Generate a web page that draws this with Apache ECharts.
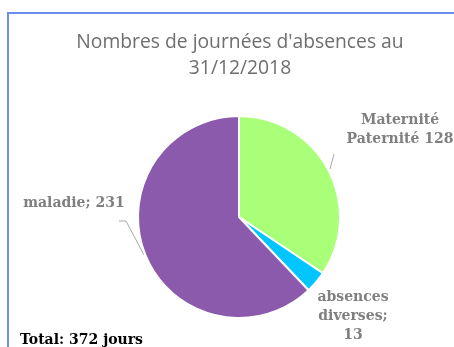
<!DOCTYPE html>
<html>
<head>
<meta charset="utf-8">
<script src="https://cdn.jsdelivr.net/npm/echarts@6/dist/echarts.min.js"></script>
<style>
  html, body { margin: 0; padding: 0; background: #fff; }
  #chart { width: 454px; height: 347px; }
</style>
</head>
<body>
<div id="chart"></div>
<script>
// Absence days at 31/12/2018, by reason
const categories = ['Maternité Paternité', 'absences diverses', 'maladie'];
const days = [128, 13, 231];
const sliceColors = ['#a9ff77', '#00c5ff', '#8b5aad'];
const totalLabel = 'Total: 372 jours';

const cx = 239, cy = 217, R = 101;

const chart = echarts.init(document.getElementById('chart'));

const labelFont = {
  fontFamily: '"DejaVu Serif", "Liberation Serif", serif',
  fontWeight: 'bold',
  fontSize: 14,
  color: '#7f7f7f',
  lineHeight: 19,
  overflow: 'none'
};

chart.setOption({
  animation: false,
  title: {
    text: "Nombres de journées d'absences au\n31/12/2018",
    left: 235,
    textAlign: 'center',
    top: 25,
    textStyle: {
      fontFamily: '"Open Sans", sans-serif',
      fontSize: 19.3,
      fontWeight: 'normal',
      color: '#6e6e6e',
      lineHeight: 26
    }
  },
  graphic: [
    {
      type: 'rect',
      shape: { x: 8, y: 13, width: 520, height: 420 },
      style: { fill: 'none', stroke: '#6d8cf0', lineWidth: 2 },
      z: 0
    },
    {
      type: 'text',
      left: 20,
      top: 333,
      style: {
        text: totalLabel,
        fill: '#000',
        font: 'bold 14px "DejaVu Serif", "Liberation Serif", serif'
      }
    }
  ],
  series: [{
    type: 'pie',
    center: [cx, cy],
    radius: R,
    startAngle: 90,
    clockwise: true,
    itemStyle: { borderColor: '#fff', borderWidth: 2 },
    label: Object.assign({ show: true }, labelFont),
    labelLine: { show: true, lineStyle: { color: '#a6a6a6', width: 1 } },
    data: categories.map((name, i) => {
      const texts = [
        'Maternité\nPaternité 128',
        'absences\ndiverses;\n' + days[1],
        'maladie; ' + days[2]
      ];
      return {
        name,
        value: days[i],
        itemStyle: { color: sliceColors[i] },
        label: { formatter: texts[i], align: 'center', width: 160, overflow: 'none' },
        labelLine: { show: i !== 1 }
      };
    }),
    labelLayout: function (p) {
      if (p.dataIndex === 0) {
        return {
          x: 400, y: 130, align: 'center', verticalAlign: 'middle',
          labelLinePoints: [[cx + 91, cy - 48], [cx + 95, cy - 63], [cx + 95, cy - 63]]
        };
      }
      if (p.dataIndex === 1) {
        return { x: 353, y: 316, align: 'center', verticalAlign: 'middle' };
      }
      return {
        x: 74, y: 203, align: 'center', verticalAlign: 'middle',
        labelLinePoints: [[cx - 95, cy + 38], [cx - 113, cy + 4], [cx - 120, cy + 4]]
      };
    }
  }]
});
</script>
</body>
</html>
